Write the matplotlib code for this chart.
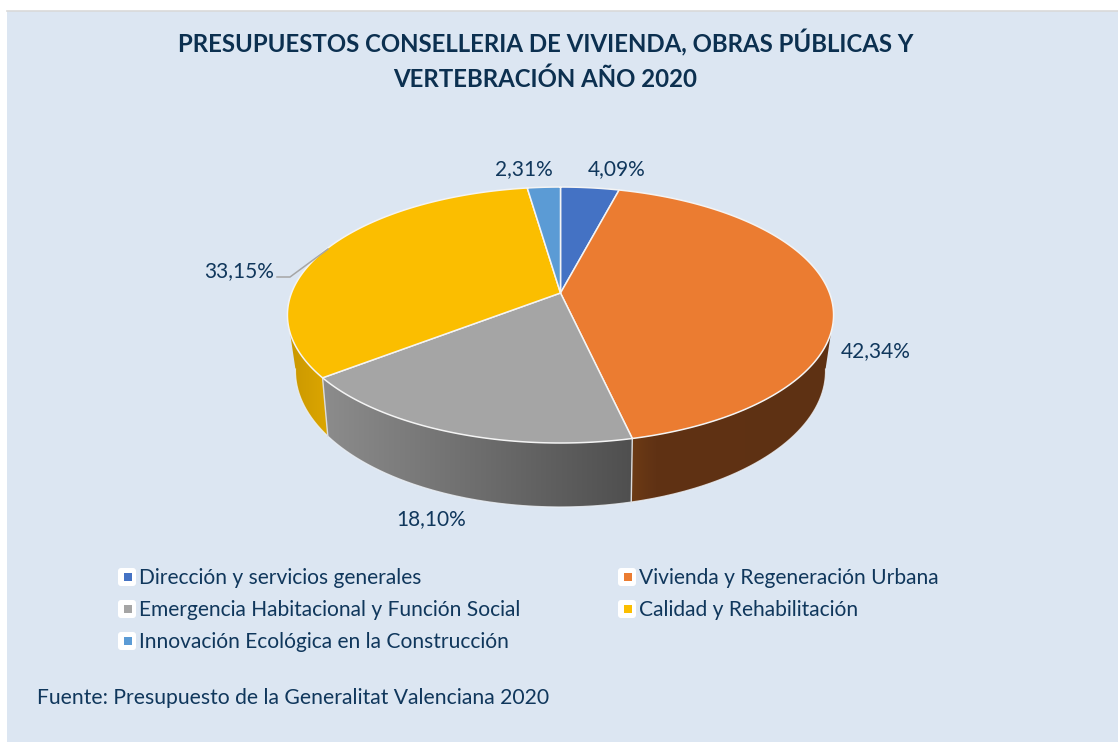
import numpy as np
import matplotlib
matplotlib.use("Agg")
import matplotlib.pyplot as plt
from matplotlib.colors import LinearSegmentedColormap
from matplotlib.patches import Rectangle, FancyBboxPatch, Polygon

### Data
categories = ["Dirección y servicios generales", "Vivienda y Regeneración Urbana",
              "Emergencia Habitacional y Función Social", "Calidad y Rehabilitación",
              "Innovación Ecológica en la Construcción"]
shares = [4.09, 42.34, 18.10, 33.15, 2.31]
colors = ["#4472c4", "#eb7c31", "#a5a5a5", "#fbbe00", "#5b9bd5"]
# side wall shades, left to right on screen, only for the slices seen from the front
side_stops = {1: [(0, "#6d3b15"), (0.12, "#603214"), (1, "#5e3113")],
              2: [(0, "#8c8c8c"), (1, "#4f4f4f")],
              3: [(0, "#c99700"), (1, "#dca600")]}
title = "PRESUPUESTOS CONSELLERIA DE VIVIENDA, OBRAS PÚBLICAS Y\nVERTEBRACIÓN AÑO 2020"
source = "Fuente: Presupuesto de la Generalitat Valenciana 2020"

textcol = "#10375c"
bgcol = "#dce6f2"
plt.rcParams['font.family'] = ['Lato', 'DejaVu Sans']

fig = plt.figure(figsize=(11.18, 7.42), dpi=100, facecolor="white")
ax = fig.add_axes([0, 0, 1, 1])
ax.axis("off")

ax.add_patch(Rectangle((7, 11), 1111, 731, facecolor=bgcol, edgecolor="none", zorder=0))
ax.plot([7, 1118], [10.5, 10.5], color="#d9d9d9", lw=1.2, zorder=1)


def project(theta, cx, cy, rad, b, k):
    # theta clockwise from 12 o'clock, disc seen in perspective
    x = np.sin(theta)
    y = np.cos(theta)
    w = 1 + k * y
    return cx + rad * x / w, cy - b * y / w


def top_rim(theta):
    return project(theta, 560.5, 293, 269, 124.2, 0.172)


def bottom_rim(theta):
    return project(theta, 560.5, 345.5, 260.4, 131.3, 0.187)


fracs = np.array(shares) / sum(shares)
edges = np.concatenate([[0], np.cumsum(fracs)]) * 2 * np.pi

# side wall: horizontal gradient clipped to the visible band of each slice
tan_right = np.radians(100)
tan_left = np.radians(260)
for i in side_stops:
    t = np.linspace(max(edges[i], tan_right), min(edges[i + 1], tan_left), 200)
    xa, ya = top_rim(t)
    xb, yb = bottom_rim(t)
    band = Polygon(np.column_stack([np.r_[xa, xb[::-1]], np.r_[ya, yb[::-1]]]), closed=True,
                   facecolor="none", edgecolor="none", transform=ax.transData)
    ax.add_patch(band)
    cmap = LinearSegmentedColormap.from_list("side", side_stops[i])
    xmin = min(xa.min(), xb.min())
    xmax = max(xa.max(), xb.max())
    ymin = min(ya.min(), yb.min())
    ymax = max(ya.max(), yb.max())
    img = ax.imshow(np.linspace(0, 1, 256).reshape(1, -1), cmap=cmap, aspect="auto",
                    extent=(xmin, xmax, ymax, ymin), interpolation="bilinear", zorder=2)
    img.set_clip_path(band)

ax.set_xlim(0, 1118)
ax.set_ylim(742, 0)

# faint light outline under the wall and seams between slices
t = np.linspace(np.radians(100), np.radians(260), 300)
xb, yb = bottom_rim(t)
ax.plot(xb, yb, color="#eef2f7", lw=0.9, alpha=0.8, zorder=3)
for e in edges[2:4]:
    xa, ya = top_rim(np.array([e]))
    xb, yb = bottom_rim(np.array([e]))
    ax.plot([xa[0], xb[0]], [ya[0], yb[0]], color="#dcdcdc", lw=1.0, zorder=3)

# top face
for i in range(len(shares)):
    t = np.linspace(edges[i], edges[i + 1], 200)
    xa, ya = top_rim(t)
    pts = np.column_stack([np.r_[560.5, xa], np.r_[293, ya]])
    ax.add_patch(Polygon(pts, closed=True, facecolor=colors[i], edgecolor="#f4f4f4",
                         lw=1.1, joinstyle="round", zorder=4))

# data labels
label_x = [617, 875.5, 431, 239.5, 524]
label_y = [169.5, 351.5, 519.5, 271.5, 169.5]
for v, lx, ly in zip(shares, label_x, label_y):
    ax.text(lx, ly, "{:.2f}%".format(v).replace(".", ","), color=textcol, fontsize=15.0,
            ha="center", va="center", zorder=6)
ax.plot([277, 290, 328], [277, 277, 249], color="#a6a6a6", lw=1.1, zorder=5)

ax.text(545.5, 60, title, color="#0c3050", fontsize=17.25, fontweight="bold",
        ha="center", va="center", linespacing=1.54, zorder=6)

# legend
legend_x = [118, 618, 118, 618, 118]
legend_y = [577, 577, 609, 609, 641]
for name, col, lx, ly in zip(categories, colors, legend_x, legend_y):
    ax.add_patch(FancyBboxPatch((lx + 2, ly - 7), 14, 14, boxstyle="round,pad=2,rounding_size=3",
                                facecolor="white", edgecolor="none", zorder=5))
    ax.add_patch(Rectangle((lx + 5.5, ly - 4), 8, 8, facecolor=col, edgecolor="none", zorder=6))
    ax.text(lx + 21, ly + 0.5, name, color=textcol, fontsize=15.1, ha="left", va="center", zorder=6)

ax.text(37, 697.5, source, color=textcol, fontsize=15.2, ha="left", va="center", zorder=6)

fig.savefig("out.png", dpi=100, facecolor="white")
